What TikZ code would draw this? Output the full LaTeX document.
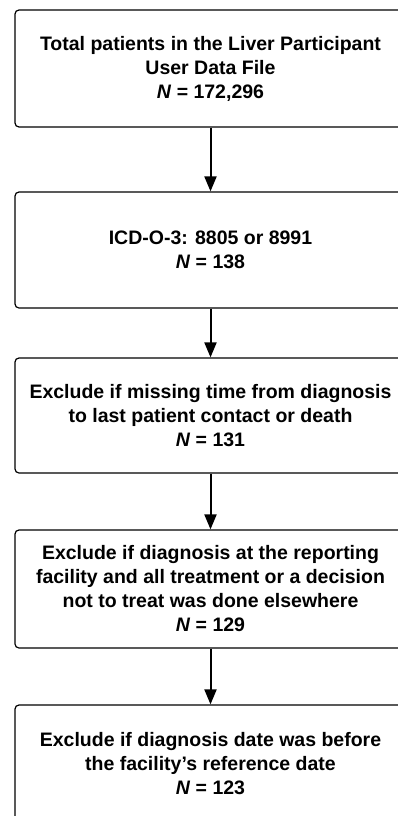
\documentclass[tikz,border=0pt]{standalone}
\usepackage{fontspec}
\setmainfont{Liberation Sans}
\usetikzlibrary{arrows.meta}

\begin{document}
\begin{tikzpicture}[
  x=1pt, y=-1pt,
  box/.style={rectangle, draw, line width=1.2pt, rounded corners=4pt, minimum width=391pt, minimum height=117pt, align=center, inner sep=0pt, font=\fontsize{19.5}{24}\selectfont\bfseries},
  arrow/.style={-{Triangle[length=15pt, width=12pt]}, line width=2pt}
]
  \useasboundingbox (0,0) rectangle (397,816);

  % Selection steps (top to bottom)
  \node[box] (total) at (210.5,68.5) {Total patients in the Liver Participant\\User Data File\\\textit{N} = 172,296};
  \node[box, minimum height=116pt] (icd) at (210.5,250) {ICD-O-3: 8805 or 8991\\\textit{N} = 138};
  \node[box, minimum height=115pt] (missing) at (210.5,415.5) {Exclude if missing time from diagnosis\\to last patient contact or death\\\textit{N} = 131};
  \node[box, minimum height=118pt] (facility) at (210.5,589) {Exclude if diagnosis at the reporting\\facility and all treatment or a decision\\not to treat was done elsewhere\\\textit{N} = 129};
  \node[box] (refdate) at (210.5,763.5) {Exclude if diagnosis date was before\\the facility’s reference date\\\textit{N} = 123};

  % Arrows between steps
  \draw[arrow] (total) -- (icd);
  \draw[arrow] (icd) -- (missing);
  \draw[arrow] (missing) -- (facility);
  \draw[arrow] (facility) -- (refdate);
\end{tikzpicture}
\end{document}
